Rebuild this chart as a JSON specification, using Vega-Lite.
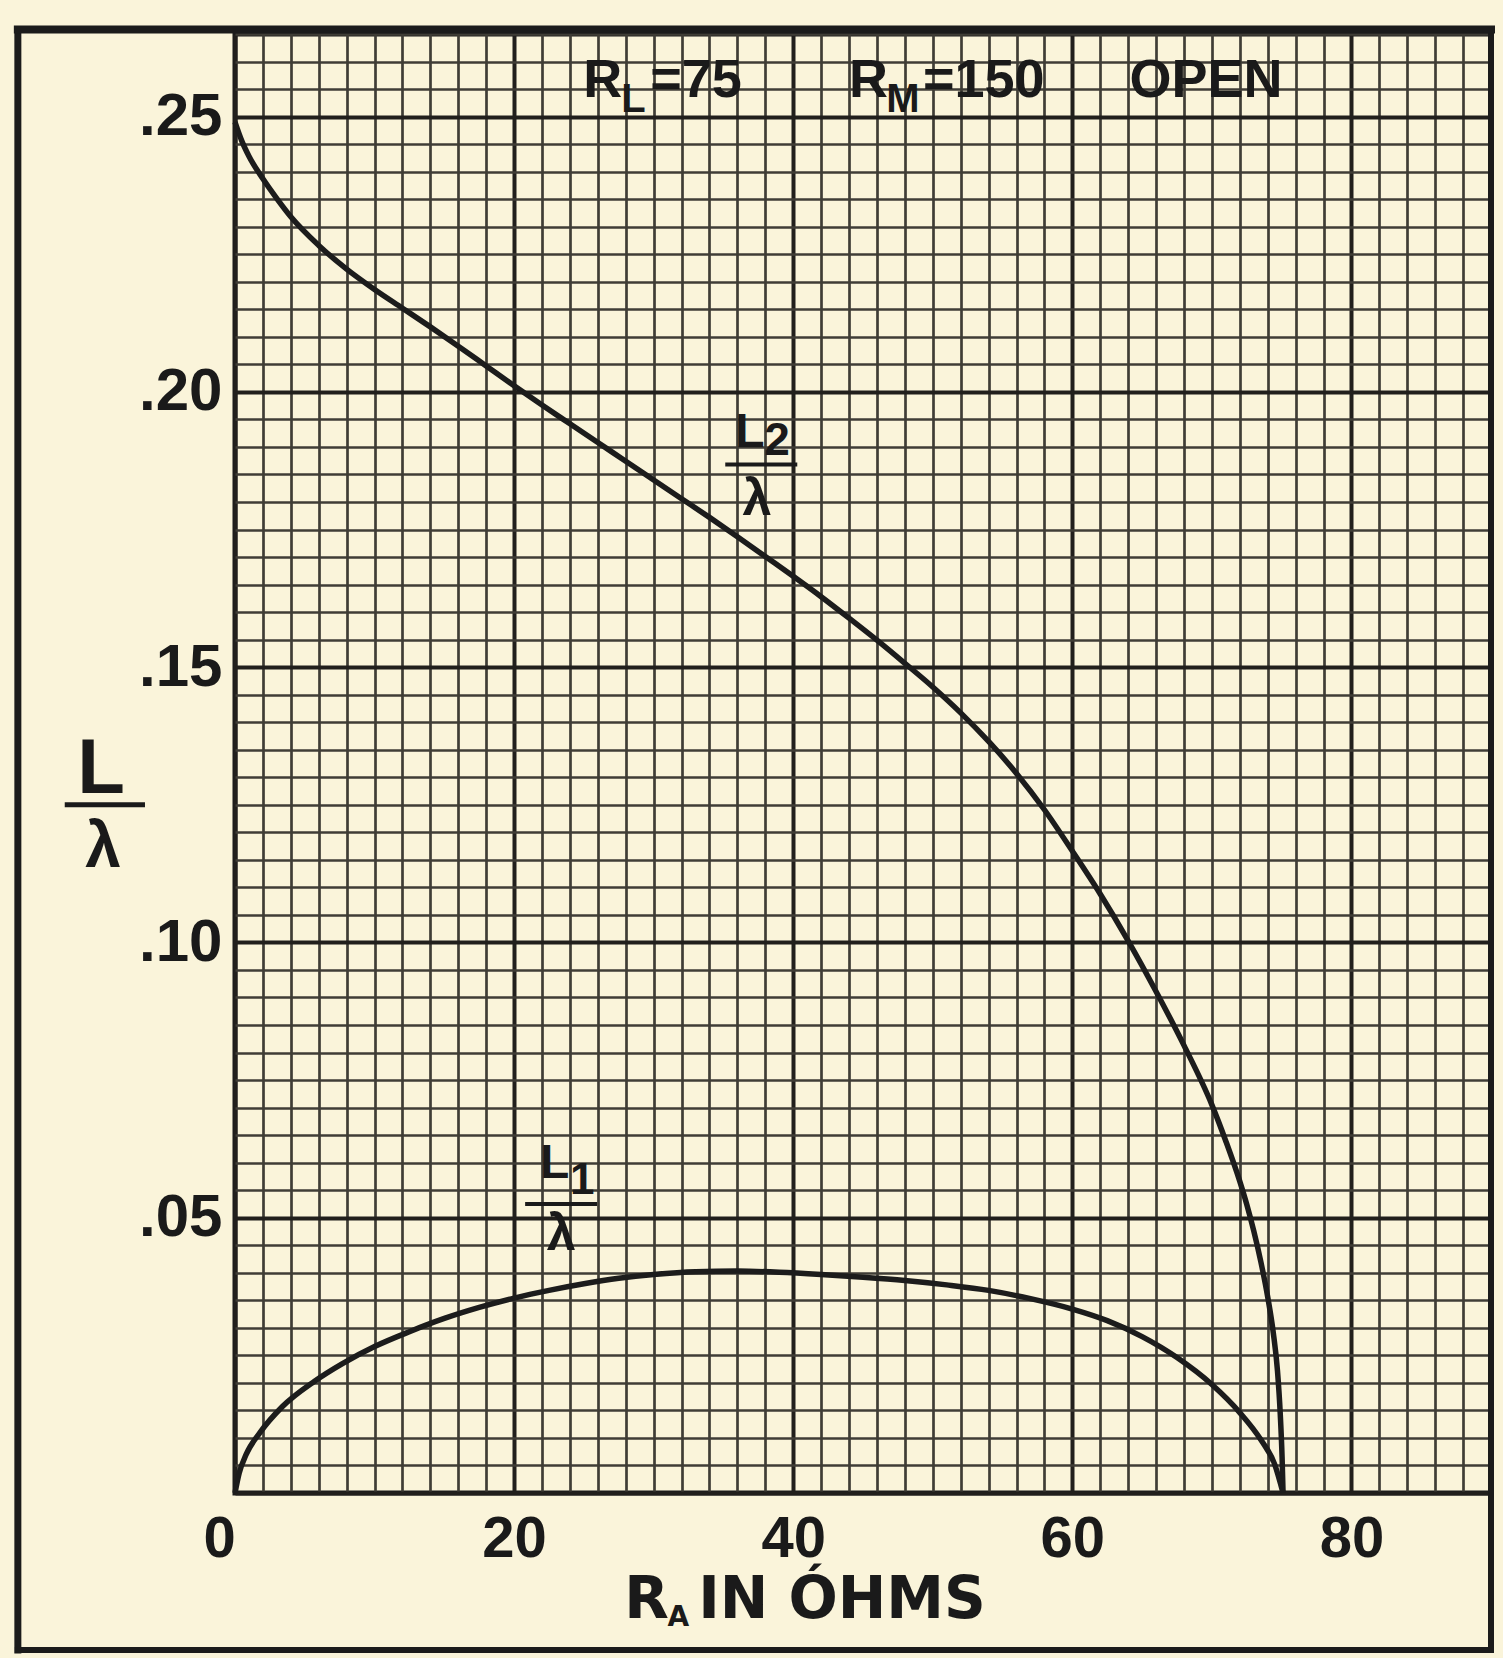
{
  "$schema": "https://vega.github.io/schema/vega-lite/v6.json",
  "width": 1256,
  "height": 1459,
  "autosize": {"type": "none"},
  "padding": {"left": 235, "top": 34, "right": 12, "bottom": 165},
  "background": "#FAF4DA",
  "config": {"view": {"stroke": "#1b1b1b", "strokeWidth": 5}},
  "layer": [
    {
      "data": {"values": [
        {"curve": "L2", "ohms": 0, "ratio": 0.249},
        {"curve": "L2", "ohms": 0.5, "ratio": 0.2455},
        {"curve": "L2", "ohms": 1, "ratio": 0.2428},
        {"curve": "L2", "ohms": 2, "ratio": 0.2387},
        {"curve": "L2", "ohms": 3, "ratio": 0.2351},
        {"curve": "L2", "ohms": 4, "ratio": 0.2318},
        {"curve": "L2", "ohms": 6, "ratio": 0.2266},
        {"curve": "L2", "ohms": 8, "ratio": 0.2223},
        {"curve": "L2", "ohms": 10, "ratio": 0.2186},
        {"curve": "L2", "ohms": 12, "ratio": 0.2152},
        {"curve": "L2", "ohms": 14, "ratio": 0.2118},
        {"curve": "L2", "ohms": 16, "ratio": 0.2083},
        {"curve": "L2", "ohms": 18, "ratio": 0.2047},
        {"curve": "L2", "ohms": 20, "ratio": 0.2011},
        {"curve": "L2", "ohms": 22, "ratio": 0.1976},
        {"curve": "L2", "ohms": 24, "ratio": 0.1942},
        {"curve": "L2", "ohms": 26, "ratio": 0.1908},
        {"curve": "L2", "ohms": 28, "ratio": 0.1874},
        {"curve": "L2", "ohms": 30, "ratio": 0.184},
        {"curve": "L2", "ohms": 32, "ratio": 0.1806},
        {"curve": "L2", "ohms": 34, "ratio": 0.1772},
        {"curve": "L2", "ohms": 36, "ratio": 0.1737},
        {"curve": "L2", "ohms": 38, "ratio": 0.1701},
        {"curve": "L2", "ohms": 40, "ratio": 0.1665},
        {"curve": "L2", "ohms": 42, "ratio": 0.1628},
        {"curve": "L2", "ohms": 44, "ratio": 0.1589},
        {"curve": "L2", "ohms": 46, "ratio": 0.1549},
        {"curve": "L2", "ohms": 48, "ratio": 0.1507},
        {"curve": "L2", "ohms": 50, "ratio": 0.1464},
        {"curve": "L2", "ohms": 52, "ratio": 0.1417},
        {"curve": "L2", "ohms": 54, "ratio": 0.1365},
        {"curve": "L2", "ohms": 56, "ratio": 0.1307},
        {"curve": "L2", "ohms": 58, "ratio": 0.1241},
        {"curve": "L2", "ohms": 60, "ratio": 0.1166},
        {"curve": "L2", "ohms": 62, "ratio": 0.1088},
        {"curve": "L2", "ohms": 64, "ratio": 0.1003},
        {"curve": "L2", "ohms": 66, "ratio": 0.0911},
        {"curve": "L2", "ohms": 68, "ratio": 0.0813},
        {"curve": "L2", "ohms": 70, "ratio": 0.0705},
        {"curve": "L2", "ohms": 71, "ratio": 0.0639},
        {"curve": "L2", "ohms": 72, "ratio": 0.0566},
        {"curve": "L2", "ohms": 72.5, "ratio": 0.0524},
        {"curve": "L2", "ohms": 73, "ratio": 0.0476},
        {"curve": "L2", "ohms": 73.5, "ratio": 0.0421},
        {"curve": "L2", "ohms": 74, "ratio": 0.0356},
        {"curve": "L2", "ohms": 74.4, "ratio": 0.0291},
        {"curve": "L2", "ohms": 74.7, "ratio": 0.0222},
        {"curve": "L2", "ohms": 74.9, "ratio": 0.0143},
        {"curve": "L2", "ohms": 75.03, "ratio": 0.0065},
        {"curve": "L2", "ohms": 75.1, "ratio": 0},
        {"curve": "L1", "ohms": 0, "ratio": 0},
        {"curve": "L1", "ohms": 0.3, "ratio": 0.0036},
        {"curve": "L1", "ohms": 0.8, "ratio": 0.007},
        {"curve": "L1", "ohms": 1.8, "ratio": 0.011},
        {"curve": "L1", "ohms": 3.4, "ratio": 0.0157},
        {"curve": "L1", "ohms": 5.7, "ratio": 0.0203},
        {"curve": "L1", "ohms": 7.7, "ratio": 0.0235},
        {"curve": "L1", "ohms": 10, "ratio": 0.0266},
        {"curve": "L1", "ohms": 12.5, "ratio": 0.0293},
        {"curve": "L1", "ohms": 15, "ratio": 0.0317},
        {"curve": "L1", "ohms": 17.5, "ratio": 0.0337},
        {"curve": "L1", "ohms": 20, "ratio": 0.0354},
        {"curve": "L1", "ohms": 22.5, "ratio": 0.0368},
        {"curve": "L1", "ohms": 25, "ratio": 0.038},
        {"curve": "L1", "ohms": 27.5, "ratio": 0.039},
        {"curve": "L1", "ohms": 30, "ratio": 0.0397},
        {"curve": "L1", "ohms": 33, "ratio": 0.0402},
        {"curve": "L1", "ohms": 36, "ratio": 0.0403},
        {"curve": "L1", "ohms": 39, "ratio": 0.0401},
        {"curve": "L1", "ohms": 42, "ratio": 0.0397},
        {"curve": "L1", "ohms": 45, "ratio": 0.0392},
        {"curve": "L1", "ohms": 48, "ratio": 0.0386},
        {"curve": "L1", "ohms": 51, "ratio": 0.0378},
        {"curve": "L1", "ohms": 54, "ratio": 0.0368},
        {"curve": "L1", "ohms": 57, "ratio": 0.0353},
        {"curve": "L1", "ohms": 60, "ratio": 0.0334},
        {"curve": "L1", "ohms": 62.5, "ratio": 0.0313},
        {"curve": "L1", "ohms": 65, "ratio": 0.0284},
        {"curve": "L1", "ohms": 67.5, "ratio": 0.0246},
        {"curve": "L1", "ohms": 70, "ratio": 0.0197},
        {"curve": "L1", "ohms": 72, "ratio": 0.0146},
        {"curve": "L1", "ohms": 73.5, "ratio": 0.0097},
        {"curve": "L1", "ohms": 74.5, "ratio": 0.0052},
        {"curve": "L1", "ohms": 75.1, "ratio": 0}
      ]},
      "mark": {"type": "line", "interpolate": "monotone", "stroke": "#1c1c1c", "strokeWidth": 5.5},
      "encoding": {
        "x": {
          "field": "ohms", "type": "quantitative",
          "scale": {"domain": [0, 90], "nice": false, "zero": false},
          "axis": {
            "values": [0,2,4,6,8,10,12,14,16,18,20,22,24,26,28,30,32,34,36,38,40,42,44,46,48,50,52,54,56,58,60,62,64,66,68,70,72,74,76,78,80,82,84,86,88,90],
            "tickCount": 500,
            "grid": true,
            "gridColor": {"condition": {"test": "datum.value % 20 === 0", "value": "#211f1c"}, "value": "#3f3d36"},
            "gridWidth": {"condition": {"test": "datum.value % 20 === 0", "value": 4}, "value": 2.7},
            "gridOpacity": 1,
            "ticks": false, "domain": false,
            "labelExpr": "datum.value % 20 === 0 && datum.value <= 80 ? format(datum.value, 'd') : ''",
            "labelOffset": {"condition": {"test": "datum.value === 0", "value": -16}, "value": 0},
            "labelFont": "Liberation Sans", "labelFontWeight": "bold", "labelFontSize": 58,
            "labelColor": "#1a1a1a", "labelPadding": 17, "labelOverlap": false, "labelFlush": false, "labelBound": false,
            "title": null
          }
        },
        "y": {
          "field": "ratio", "type": "quantitative",
          "scale": {"domain": [0, 0.265], "nice": false, "zero": false},
          "axis": {
            "values": [0,0.005,0.01,0.015,0.02,0.025,0.03,0.035,0.04,0.045,0.05,0.055,0.06,0.065,0.07,0.075,0.08,0.085,0.09,0.095,0.1,0.105,0.11,0.115,0.12,0.125,0.13,0.135,0.14,0.145,0.15,0.155,0.16,0.165,0.17,0.175,0.18,0.185,0.19,0.195,0.2,0.205,0.21,0.215,0.22,0.225,0.23,0.235,0.24,0.245,0.25,0.255,0.26,0.265],
            "tickCount": 500,
            "grid": true,
            "gridColor": {"condition": {"test": "abs(datum.value * 20 - round(datum.value * 20)) < 0.001", "value": "#211f1c"}, "value": "#3f3d36"},
            "gridWidth": {"condition": {"test": "abs(datum.value * 20 - round(datum.value * 20)) < 0.001", "value": 4}, "value": 2.7},
            "gridOpacity": 1,
            "ticks": false, "domain": false,
            "labelExpr": "datum.value > 0.001 && abs(datum.value * 20 - round(datum.value * 20)) < 0.001 ? substring(format(datum.value, '.2f'), 1) : ''",
            "labelFont": "Liberation Sans", "labelFontWeight": "bold", "labelFontSize": 60,
            "labelColor": "#1a1a1a", "labelPadding": 13, "labelOverlap": false, "labelFlush": false, "labelBound": false,
            "title": null
          }
        },
        "detail": {"field": "curve"}
      }
    },
    {
      "data": {"values": [{}]},
      "mark": {"type": "rule", "strokeWidth": 7, "color": "#1b1b1b", "strokeCap": "square"},
      "encoding": {
        "x": {"datum": -15.56, "type": "quantitative"},
        "y": {"datum": -0.0285, "type": "quantitative"},
        "y2": {"datum": 0.2658}
      }
    },
    {
      "data": {"values": [{}]},
      "mark": {"type": "rule", "strokeWidth": 6, "color": "#1b1b1b", "strokeCap": "square"},
      "encoding": {
        "x": {"datum": -15.56, "type": "quantitative"},
        "x2": {"datum": 90},
        "y": {"datum": -0.0285, "type": "quantitative"}
      }
    },
    {
      "data": {"values": [{}]},
      "mark": {"type": "rule", "strokeWidth": 6, "color": "#1b1b1b", "strokeCap": "square"},
      "encoding": {
        "x": {"datum": 90, "type": "quantitative"},
        "y": {"datum": -0.0285, "type": "quantitative"},
        "y2": {"datum": 0.2658}
      }
    },
    {
      "data": {"values": [{}]},
      "mark": {"type": "rule", "strokeWidth": 8, "color": "#1b1b1b", "strokeCap": "square"},
      "encoding": {
        "x": {"datum": -15.56, "type": "quantitative"},
        "x2": {"datum": 90},
        "y": {"datum": 0.2658, "type": "quantitative"}
      }
    },
    {
      "data": {"values": [{}]},
      "mark": {"type": "text", "font": "Liberation Sans", "fontWeight": "bold", "fontSize": 78, "align": "center", "baseline": "alphabetic", "color": "#1a1a1a"},
      "encoding": {
        "x": {"datum": -9.6, "type": "quantitative"},
        "y": {"datum": 0.1272, "type": "quantitative"},
        "text": {"value": "L"}
      }
    },
    {
      "data": {"values": [{}]},
      "mark": {"type": "rule", "strokeWidth": 5, "color": "#1a1a1a"},
      "encoding": {
        "x": {"datum": -12.2, "type": "quantitative"},
        "x2": {"datum": -6.45},
        "y": {"datum": 0.125, "type": "quantitative"}
      }
    },
    {
      "data": {"values": [{}]},
      "mark": {"type": "text", "font": "Liberation Sans", "fontWeight": "bold", "fontSize": 64, "align": "center", "baseline": "alphabetic", "color": "#1a1a1a"},
      "encoding": {
        "x": {"datum": -9.46, "type": "quantitative"},
        "y": {"datum": 0.1137, "type": "quantitative"},
        "text": {"value": "λ"}
      }
    },
    {
      "data": {"values": [{}]},
      "mark": {"type": "text", "font": "Liberation Sans", "fontWeight": "bold", "fontSize": 48, "align": "left", "baseline": "alphabetic", "color": "#1a1a1a"},
      "encoding": {
        "x": {"datum": 35.84, "type": "quantitative"},
        "y": {"datum": 0.19, "type": "quantitative"},
        "text": {"value": "L"}
      }
    },
    {
      "data": {"values": [{}]},
      "mark": {"type": "text", "font": "Liberation Sans", "fontWeight": "bold", "fontSize": 46, "align": "left", "baseline": "alphabetic", "color": "#1a1a1a"},
      "encoding": {
        "x": {"datum": 37.92, "type": "quantitative"},
        "y": {"datum": 0.1886, "type": "quantitative"},
        "text": {"value": "2"}
      }
    },
    {
      "data": {"values": [{}]},
      "mark": {"type": "rule", "strokeWidth": 4, "color": "#1a1a1a"},
      "encoding": {
        "x": {"datum": 35.13, "type": "quantitative"},
        "x2": {"datum": 40.29},
        "y": {"datum": 0.1868, "type": "quantitative"}
      }
    },
    {
      "data": {"values": [{}]},
      "mark": {"type": "text", "font": "Liberation Sans", "fontWeight": "bold", "fontSize": 52, "align": "center", "baseline": "alphabetic", "color": "#1a1a1a"},
      "encoding": {
        "x": {"datum": 37.4, "type": "quantitative"},
        "y": {"datum": 0.1777, "type": "quantitative"},
        "text": {"value": "λ"}
      }
    },
    {
      "data": {"values": [{}]},
      "mark": {"type": "text", "font": "Liberation Sans", "fontWeight": "bold", "fontSize": 48, "align": "left", "baseline": "alphabetic", "color": "#1a1a1a"},
      "encoding": {
        "x": {"datum": 21.86, "type": "quantitative"},
        "y": {"datum": 0.0572, "type": "quantitative"},
        "text": {"value": "L"}
      }
    },
    {
      "data": {"values": [{}]},
      "mark": {"type": "text", "font": "Liberation Sans", "fontWeight": "bold", "fontSize": 44, "align": "left", "baseline": "alphabetic", "color": "#1a1a1a"},
      "encoding": {
        "x": {"datum": 24.0, "type": "quantitative"},
        "y": {"datum": 0.0543, "type": "quantitative"},
        "text": {"value": "1"}
      }
    },
    {
      "data": {"values": [{}]},
      "mark": {"type": "rule", "strokeWidth": 4, "color": "#1a1a1a"},
      "encoding": {
        "x": {"datum": 20.79, "type": "quantitative"},
        "x2": {"datum": 25.95},
        "y": {"datum": 0.0525, "type": "quantitative"}
      }
    },
    {
      "data": {"values": [{}]},
      "mark": {"type": "text", "font": "Liberation Sans", "fontWeight": "bold", "fontSize": 52, "align": "center", "baseline": "alphabetic", "color": "#1a1a1a"},
      "encoding": {
        "x": {"datum": 23.37, "type": "quantitative"},
        "y": {"datum": 0.04415, "type": "quantitative"},
        "text": {"value": "λ"}
      }
    },
    {
      "data": {"values": [{}]},
      "mark": {"type": "text", "font": "Liberation Sans", "fontWeight": "bold", "fontSize": 54, "align": "left", "baseline": "alphabetic", "color": "#1a1a1a"},
      "encoding": {
        "x": {"datum": 24.95, "type": "quantitative"},
        "y": {"datum": 0.2536, "type": "quantitative"},
        "text": {"value": "R"}
      }
    },
    {
      "data": {"values": [{}]},
      "mark": {"type": "text", "font": "Liberation Sans", "fontWeight": "bold", "fontSize": 40, "align": "left", "baseline": "alphabetic", "color": "#1a1a1a"},
      "encoding": {
        "x": {"datum": 27.67, "type": "quantitative"},
        "y": {"datum": 0.2509, "type": "quantitative"},
        "text": {"value": "L"}
      }
    },
    {
      "data": {"values": [{}]},
      "mark": {"type": "text", "font": "Liberation Sans", "fontWeight": "bold", "fontSize": 54, "align": "left", "baseline": "alphabetic", "color": "#1a1a1a"},
      "encoding": {
        "x": {"datum": 29.75, "type": "quantitative"},
        "y": {"datum": 0.2536, "type": "quantitative"},
        "text": {"value": "=75"}
      }
    },
    {
      "data": {"values": [{}]},
      "mark": {"type": "text", "font": "Liberation Sans", "fontWeight": "bold", "fontSize": 54, "align": "left", "baseline": "alphabetic", "color": "#1a1a1a"},
      "encoding": {
        "x": {"datum": 44.0, "type": "quantitative"},
        "y": {"datum": 0.2536, "type": "quantitative"},
        "text": {"value": "R"}
      }
    },
    {
      "data": {"values": [{}]},
      "mark": {"type": "text", "font": "Liberation Sans", "fontWeight": "bold", "fontSize": 40, "align": "left", "baseline": "alphabetic", "color": "#1a1a1a"},
      "encoding": {
        "x": {"datum": 46.67, "type": "quantitative"},
        "y": {"datum": 0.2509, "type": "quantitative"},
        "text": {"value": "M"}
      }
    },
    {
      "data": {"values": [{}]},
      "mark": {"type": "text", "font": "Liberation Sans", "fontWeight": "bold", "fontSize": 54, "align": "left", "baseline": "alphabetic", "color": "#1a1a1a"},
      "encoding": {
        "x": {"datum": 49.3, "type": "quantitative"},
        "y": {"datum": 0.2536, "type": "quantitative"},
        "text": {"value": "=150"}
      }
    },
    {
      "data": {"values": [{}]},
      "mark": {"type": "text", "font": "Liberation Sans", "fontWeight": "bold", "fontSize": 54, "align": "left", "baseline": "alphabetic", "color": "#1a1a1a"},
      "encoding": {
        "x": {"datum": 64.09, "type": "quantitative"},
        "y": {"datum": 0.2536, "type": "quantitative"},
        "text": {"value": "OPEN"}
      }
    },
    {
      "data": {"values": [{}]},
      "mark": {"type": "text", "font": "DejaVu Sans", "fontWeight": "bold", "fontSize": 58, "align": "left", "baseline": "alphabetic", "color": "#1a1a1a"},
      "encoding": {
        "x": {"datum": 27.9, "type": "quantitative"},
        "y": {"datum": -0.0227, "type": "quantitative"},
        "text": {"value": "R"}
      }
    },
    {
      "data": {"values": [{}]},
      "mark": {"type": "text", "font": "DejaVu Sans", "fontWeight": "bold", "fontSize": 28, "align": "left", "baseline": "alphabetic", "color": "#1a1a1a"},
      "encoding": {
        "x": {"datum": 31.0, "type": "quantitative"},
        "y": {"datum": -0.0242, "type": "quantitative"},
        "text": {"value": "A"}
      }
    },
    {
      "data": {"values": [{}]},
      "mark": {"type": "text", "font": "DejaVu Sans", "fontWeight": "bold", "fontSize": 58, "align": "left", "baseline": "alphabetic", "color": "#1a1a1a"},
      "encoding": {
        "x": {"datum": 33.19, "type": "quantitative"},
        "y": {"datum": -0.0227, "type": "quantitative"},
        "text": {"value": "IN ÓHMS"}
      }
    }
  ]
}
